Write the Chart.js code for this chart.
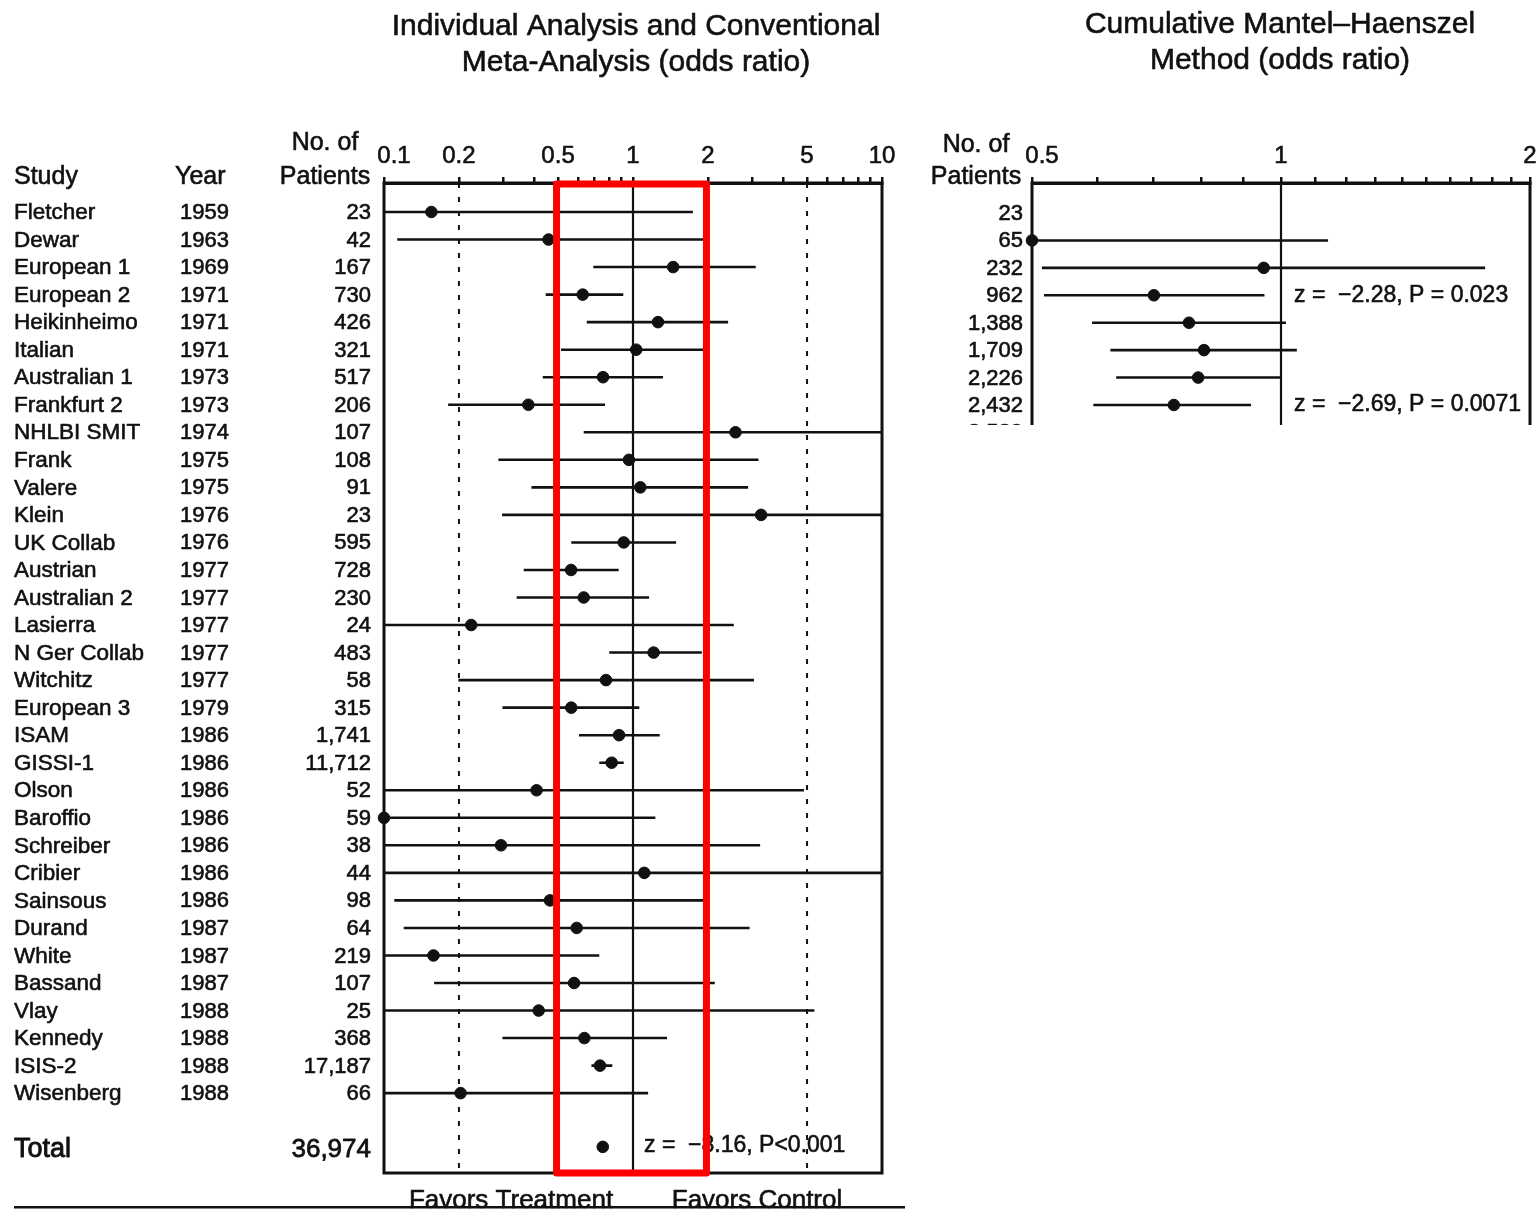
<!DOCTYPE html>
<html><head><meta charset="utf-8">
<script src="https://cdn.jsdelivr.net/npm/chart.js@4.4.0/dist/chart.umd.min.js"></script>
<style>
html,body{margin:0;padding:0;background:#fff;}
body{width:1538px;height:1210px;position:relative;overflow:hidden;}
#c1{position:absolute;left:0;top:0;}
#w2{position:absolute;left:910px;top:0;width:640px;height:425px;overflow:hidden;}
#c2{position:absolute;left:0;top:0;}
</style></head><body>
<canvas id="c1" width="910" height="1210"></canvas>
<div id="w2"><canvas id="c2" width="640" height="480"></canvas></div>
<script>
// ---------- data: individual studies ----------
const studies = ['Fletcher','Dewar','European 1','European 2','Heikinheimo','Italian','Australian 1','Frankfurt 2','NHLBI SMIT','Frank','Valere','Klein','UK Collab','Austrian','Australian 2','Lasierra','N Ger Collab','Witchitz','European 3','ISAM','GISSI-1','Olson','Baroffio','Schreiber','Cribier','Sainsous','Durand','White','Bassand','Vlay','Kennedy','ISIS-2','Wisenberg'];
const years = ['1959','1963','1969','1971','1971','1971','1973','1973','1974','1975','1975','1976','1976','1977','1977','1977','1977','1977','1979','1986','1986','1986','1986','1986','1986','1986','1987','1987','1987','1988','1988','1988','1988'];
const patients = ['23','42','167','730','426','321','517','206','107','108','91','23','595','728','230','24','483','58','315','1,741','11,712','52','59','38','44','98','64','219','107','25','368','17,187','66'];
const oddsRatio = [0.155,0.458,1.45,0.628,1.26,1.03,0.758,0.380,2.58,0.963,1.07,3.27,0.918,0.564,0.634,0.224,1.21,0.779,0.565,0.879,0.821,0.410,0.10,0.295,1.11,0.464,0.594,0.158,0.580,0.418,0.638,0.737,0.203];
const ciLow = [0.10,0.113,0.693,0.446,0.652,0.514,0.434,0.181,0.634,0.288,0.391,0.298,0.565,0.364,0.341,0.10,0.803,0.199,0.299,0.607,0.732,0.10,0.10,0.10,0.10,0.110,0.120,0.10,0.159,0.10,0.299,0.681,0.10];
const ciHigh = [1.74,1.93,3.11,0.914,2.41,1.93,1.32,0.772,10,3.19,2.90,10,1.49,0.876,1.16,2.54,1.89,3.06,1.06,1.28,0.918,4.86,1.23,3.24,10,1.93,2.94,0.732,2.13,5.35,1.37,0.826,1.15];
const totalLabel = 'Total';
const totalPatients = '36,974';
const totalOR = 0.756;
const totalRow = 33.95;
const totalNote = 'z =  \u22128.16, P<0.001';

// ---------- data: cumulative Mantel-Haenszel ----------
const cumPatients = ['23','65','232','962','1,388','1,709','2,226','2,432','2,539'];
const cumOR = [null,0.5,0.953,0.702,0.774,0.807,0.794,0.742,null];
const cumLow = [null,0.5,0.514,0.517,0.591,0.622,0.632,0.593,null];
const cumHigh = [null,1.14,1.765,0.955,1.014,1.045,1.0,0.92,null];
const cumNotes = [{row:3, text:'z =  \u22122.28, P = 0.023'},{row:7, text:'z =  \u22122.69, P = 0.0071'}];

// ---------- axis ticks ----------
const leftTicks = [0.1,0.2,0.3,0.4,0.5,0.6,0.7,0.8,0.9,1,2,3,4,5,6,7,8,9,10];
const leftTickLabels = [0.1,0.2,0.5,1,2,5,10];
const rightTicks = [0.5,0.6,0.7,0.8,0.9,1,1.1,1.2,1.3,1.4,1.5,1.6,1.7,1.8,1.9,2];
const rightTickLabels = [0.5,1,2];

const FONT = "'Liberation Sans', Arial, Helvetica, sans-serif";
const INK = '#111';
Chart.defaults.font.family = FONT;
Chart.defaults.color = INK;

function segments(lo, hi){
  const d = [];
  lo.forEach((l,i)=>{ if(l==null) return; d.push({x:l,y:i},{x:hi[i],y:i},{x:hi[i],y:null}); });
  return d;
}
function points(v){ return v.map((x,i)=> x==null ? null : {x:x,y:i}).filter(p=>p); }
function txt(ctx,s,x,y,size,align,stroke){
  ctx.save();
  ctx.font = size+'px '+FONT; ctx.textAlign = align||'left'; ctx.textBaseline='middle';
  ctx.fillStyle = INK; ctx.fillText(s,x,y);
  ctx.strokeStyle = INK; ctx.lineWidth = stroke==null ? 0.6 : stroke; ctx.lineJoin='round';
  if (ctx.lineWidth>0) ctx.strokeText(s,x,y);
  ctx.restore();
}
function xAxis(minV,maxV,tickList,labelList,firstPad){
  return {
    type:'logarithmic', position:'top', min:minV, max:maxV,
    afterBuildTicks:(s)=>{ s.ticks = tickList.map(v=>({value:v})); },
    afterFit:(s)=>{ s.height = 60; },
    ticks:{ autoSkip:false, maxRotation:0, minRotation:0, padding:6, color:INK,
      textStrokeColor:INK, textStrokeWidth:0.6,
      font:{size:24}, callback:(v)=> labelList.includes(v) ? (v===minV ? firstPad+String(v) : String(v)) : '' },
    grid:{ drawOnChartArea:false, drawTicks:true, tickLength:6, color:INK, lineWidth:2.5 },
    border:{ display:true, color:INK, width:3 }
  };
}

// ---------- left chart ----------
const Y1MIN = -1.053, Y1MAX = 34.9;
const leftPlugin = {
  id:'leftDecor',
  afterDatasetsDraw(chart){
    const ctx = chart.ctx, y = chart.scales.y, a = chart.chartArea;
    txt(ctx,'Individual Analysis and Conventional',636,27,30,'center');
    txt(ctx,'Meta-Analysis (odds ratio)',636,63,30,'center');
    txt(ctx,'Study',14,177,25);
    txt(ctx,'Year',175,177,25);
    txt(ctx,'No. of',325,143,25,'center');
    txt(ctx,'Patients',325,177,25,'center');
    studies.forEach((s,i)=>{
      const py = y.getPixelForValue(i)+1;
      txt(ctx,s,14,py,22.5);
      txt(ctx,years[i],180,py,22);
      txt(ctx,patients[i],371,py,22,'right');
    });
    const ty = y.getPixelForValue(totalRow)+3;
    txt(ctx,totalLabel,14,ty,27,'left',0.9);
    txt(ctx,totalPatients,371,ty,26,'right',0.8);
    txt(ctx,totalNote,644,y.getPixelForValue(totalRow)-1,23);
    // frame
    ctx.save(); ctx.strokeStyle = INK; ctx.lineWidth = 3;
    ctx.strokeRect(a.left,a.top,a.right-a.left,a.bottom-a.top); ctx.restore();
    // bottom labels and rule
    txt(ctx,'Favors Treatment',511,1201,26,'center');
    txt(ctx,'Favors Control',757,1201,26,'center');
    ctx.save(); ctx.fillStyle = INK; ctx.fillRect(14,1206,891,2.5); ctx.restore();
  },
  afterDraw(chart){
    const ctx = chart.ctx, x = chart.scales.x, a = chart.chartArea;
    const l = x.getPixelForValue(0.5), r = x.getPixelForValue(2);
    ctx.save(); ctx.strokeStyle = '#ff0000'; ctx.lineWidth = 7; ctx.lineJoin='round';
    ctx.strokeRect(l-1.5, a.top+1, r-l, a.bottom-a.top-1); ctx.restore();
  }
};
new Chart(document.getElementById('c1'),{
  type:'scatter',
  data:{ datasets:[
    { type:'line', data:[{x:1,y:Y1MIN},{x:1,y:Y1MAX}], borderColor:INK, borderWidth:2.2, pointRadius:0 },
    { type:'line', data:[{x:0.2,y:Y1MIN},{x:0.2,y:Y1MAX}], borderColor:INK, borderWidth:2, borderDash:[5,9], pointRadius:0 },
    { type:'line', data:[{x:5,y:Y1MIN},{x:5,y:Y1MAX}], borderColor:INK, borderWidth:2, borderDash:[5,9], pointRadius:0 },
    { type:'line', data:segments(ciLow,ciHigh), borderColor:INK, borderWidth:2.6, pointRadius:0, spanGaps:false },
    { type:'scatter', data:points(oddsRatio).concat([{x:totalOR,y:totalRow}]), backgroundColor:INK, borderColor:INK, pointRadius:5.8, clip:false }
  ]},
  options:{
    responsive:false, animation:false, events:[],
    layout:{ padding:{ left:384, right:28, top:123, bottom:37 } },
    plugins:{ legend:{display:false}, tooltip:{enabled:false} },
    scales:{
      x: xAxis(0.1,10,leftTicks,leftTickLabels,'   '),
      y: { type:'linear', reverse:true, min:Y1MIN, max:Y1MAX, display:false }
    }
  },
  plugins:[leftPlugin]
});

// ---------- right chart ----------
const Y2MIN = -1.094, Y2MAX = 7.73;
const rightPlugin = {
  id:'rightDecor',
  afterDatasetsDraw(chart){
    const ctx = chart.ctx, y = chart.scales.y, a = chart.chartArea;
    txt(ctx,'Cumulative Mantel\u2013Haenszel',370,25,30,'center');
    txt(ctx,'Method (odds ratio)',370,61,30,'center');
    txt(ctx,'No. of',66,145,25,'center');
    txt(ctx,'Patients',66,177,25,'center');
    cumPatients.forEach((s,i)=>{ txt(ctx,s,113,y.getPixelForValue(i)+1,22,'right'); });
    cumNotes.forEach(n=>{ txt(ctx,n.text,384,y.getPixelForValue(n.row),23); });
    ctx.save(); ctx.strokeStyle = INK; ctx.lineWidth = 3;
    ctx.beginPath();
    ctx.moveTo(a.left,a.bottom+10); ctx.lineTo(a.left,a.top); ctx.lineTo(a.right,a.top); ctx.lineTo(a.right,a.bottom+10);
    ctx.stroke(); ctx.restore();
  }
};
new Chart(document.getElementById('c2'),{
  type:'scatter',
  data:{ datasets:[
    { type:'line', data:[{x:1,y:Y2MIN},{x:1,y:Y2MAX}], borderColor:INK, borderWidth:2.2, pointRadius:0 },
    { type:'line', data:segments(cumLow,cumHigh), borderColor:INK, borderWidth:2.6, pointRadius:0, spanGaps:false },
    { type:'scatter', data:points(cumOR), backgroundColor:INK, borderColor:INK, pointRadius:5.8, clip:false }
  ]},
  options:{
    responsive:false, animation:false, events:[],
    layout:{ padding:{ left:122, right:20, top:123, bottom:55 } },
    plugins:{ legend:{display:false}, tooltip:{enabled:false} },
    scales:{
      x: xAxis(0.5,2,rightTicks,rightTickLabels,'   '),
      y: { type:'linear', reverse:true, min:Y2MIN, max:Y2MAX, display:false }
    }
  },
  plugins:[rightPlugin]
});
</script>
</body></html>
